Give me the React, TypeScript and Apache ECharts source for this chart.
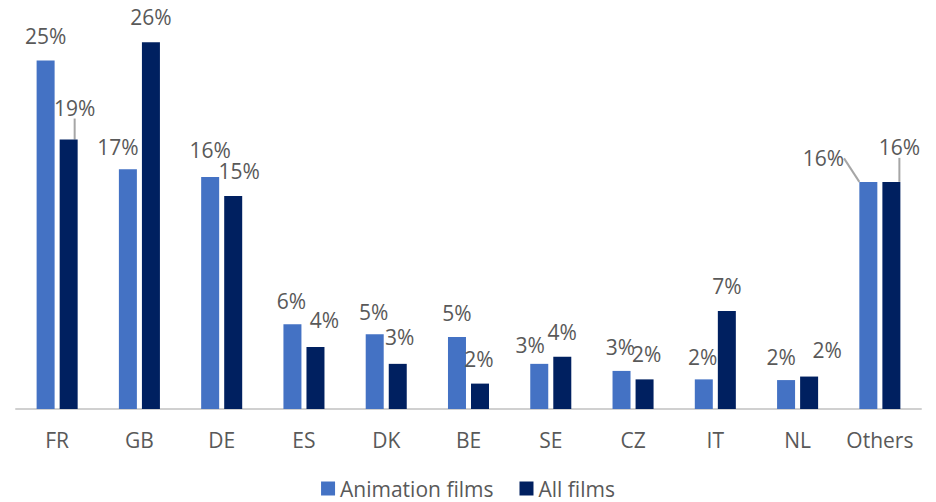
import React, { useEffect, useRef } from "react";
import * as echarts from "echarts";

const categories = ["FR", "GB", "DE", "ES", "DK", "BE", "SE", "CZ", "IT", "NL", "Others"];
const animationFilms = [24.7, 17.0, 16.45, 6.0, 5.3, 5.1, 3.2, 2.7, 2.1, 2.05, 16.1];
const allFilms = [19.1, 26.0, 15.1, 4.4, 3.2, 1.8, 3.7, 2.1, 6.95, 2.3, 16.1];

// manual label nudges (as placed in the original), [dx, dy]
const animationLabelShift: [number, number][] = [
  [0, 0], [-10, 2], [0, -2], [-1, 1], [-1, 2], [0, 0], [-9, 6], [-1, 1], [-1, 2], [-5, 1], [-45, 1],
];
const allLabelShift: [number, number][] = [
  [6, -7], [0, -1], [6, 0], [9, -2], [2, -2], [-1, 0], [0, 0], [2, -1], [0, 0], [18, -2], [8, -10],
];
const animationLeader = [false, false, false, false, false, false, false, false, false, false, true];
const allLeader = [true, false, false, false, false, false, false, false, false, false, true];

const FONT = "'Open Sans', sans-serif";
const TEXT = "#595959";

export default function App() {
  const ref = useRef<HTMLDivElement>(null);
  useEffect(() => {
    if (!ref.current) return;
    const chart = echarts.init(ref.current, undefined, { renderer: "svg" });
    const shifts = [animationLabelShift, allLabelShift];
    const mk = (vals: number[], leader: boolean[]) =>
      vals.map((v, i) => ({
        value: v,
        labelLine: { show: leader[i] },
      }));
    const labelCommon = {
      show: true,
      position: "top" as const,
      distance: 14,
      color: TEXT,
      fontSize: 21,
      fontFamily: FONT,
      formatter: (p: any) => Math.round(p.value) + "%",
    };
    const labelLineStyle = { lineStyle: { color: "#a6a6a6", width: 2 } };
    chart.setOption({
      animation: false,
      textStyle: { fontFamily: FONT },
      grid: { left: 16, right: 15, top: 14, bottom: 93 },
      legend: {
        data: ["Animation films", "All films"],
        left: "center",
        top: 473,
        icon: "rect",
        itemWidth: 14,
        itemHeight: 14,
        itemGap: 26,
        textStyle: { color: TEXT, fontSize: 21, fontFamily: FONT },
      },
      xAxis: {
        type: "category",
        data: categories,
        axisLine: { lineStyle: { color: "#d0d0d0", width: 2 } },
        axisTick: { show: false },
        axisLabel: { color: TEXT, fontSize: 21, fontFamily: FONT, margin: 20, interval: 0 },
      },
      yAxis: {
        type: "value",
        min: 0,
        max: 28,
        show: false,
        splitLine: { show: false },
      },
      series: [
        {
          name: "Animation films",
          type: "bar",
          barWidth: 18,
          barGap: "28%",
          itemStyle: { color: "#4472C4" },
          data: mk(animationFilms, animationLeader),
          label: labelCommon,
          labelLine: { show: false, ...labelLineStyle },
          labelLayout: (p: any) => ({ dx: shifts[0][p.dataIndex][0], dy: shifts[0][p.dataIndex][1] }),
        },
        {
          name: "All films",
          type: "bar",
          barWidth: 18,
          barGap: "28%",
          itemStyle: { color: "#002060" },
          data: mk(allFilms, allLeader),
          label: labelCommon,
          labelLine: { show: false, ...labelLineStyle },
          labelLayout: (p: any) => ({ dx: shifts[1][p.dataIndex][0], dy: shifts[1][p.dataIndex][1] }),
        },
      ],
    });
    return () => chart.dispose();
  }, []);
  return <div ref={ref} style={{ width: 936, height: 502, position: "absolute", left: 0, top: 0 }} />;
}
